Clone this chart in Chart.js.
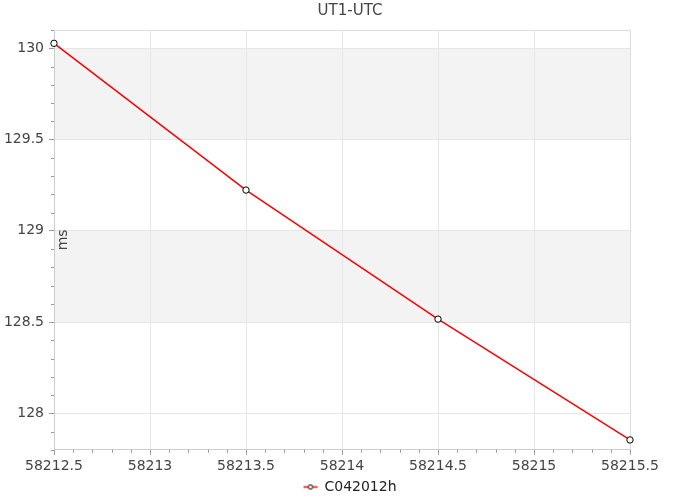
<!DOCTYPE html>
<html>
<head>
<meta charset="utf-8">
<script src="https://cdn.jsdelivr.net/npm/chart.js@4/dist/chart.umd.min.js"></script>
<style>
  html, body { margin: 0; padding: 0; background: #fff; }
  #wrap { width: 700px; height: 500px; }
</style>
</head>
<body>
<div id="wrap"><canvas id="c" width="700" height="500"></canvas></div>
<script>
// ---- data ----
const chartTitle = 'UT1-UTC';
const seriesName = 'C042012h';
const yAxisTitle = 'ms';
const mjd = [58212.5, 58213.5, 58214.5, 58215.5];
const ut1utc = [130.027, 129.223, 128.516, 127.854];
const xTicks = [58212.5, 58213, 58213.5, 58214, 58214.5, 58215, 58215.5];
const yTicks = [128, 128.5, 129, 129.5, 130];
const xMinorTicks = [58212.6, 58212.7, 58212.8, 58212.9, 58213.1, 58213.2, 58213.3, 58213.4,
  58213.6, 58213.7, 58213.8, 58213.9, 58214.1, 58214.2, 58214.3, 58214.4,
  58214.6, 58214.7, 58214.8, 58214.9, 58215.1, 58215.2, 58215.3, 58215.4];
const yMinorTicks = [127.8, 127.9, 128.1, 128.2, 128.3, 128.4, 128.6, 128.7, 128.8, 128.9,
  129.1, 129.2, 129.3, 129.4, 129.6, 129.7, 129.8, 129.9, 130.1];
const yBands = [[129.5, 130], [128.5, 129]];
const xRange = [58212.5, 58215.5];
const yRange = [127.8, 130.1];

Chart.defaults.font.family = "'DejaVu Sans', sans-serif";

// legend marker: short red line with small open circle
const marker = document.createElement('canvas');
marker.width = 16; marker.height = 9;
(function () {
  const g = marker.getContext('2d');
  g.strokeStyle = '#ff0000'; g.lineWidth = 1.5;
  g.beginPath(); g.moveTo(1, 4.5); g.lineTo(15, 4.5); g.stroke();
  g.fillStyle = '#fff'; g.strokeStyle = '#000'; g.lineWidth = 1;
  g.beginPath(); g.arc(8, 4.5, 2.2, 0, Math.PI * 2); g.fill(); g.stroke();
})();

const decor = {
  id: 'decor',
  beforeDraw(chart) {
    const { ctx, chartArea: a, scales: { y } } = chart;
    ctx.save();
    ctx.fillStyle = '#f3f3f3';
    yBands.forEach(([lo, hi]) => {
      const t = y.getPixelForValue(hi), b = y.getPixelForValue(lo);
      ctx.fillRect(a.left, t, a.right - a.left, b - t);
    });
    ctx.restore();
  },
  beforeDatasetsDraw(chart) {
    const { ctx, chartArea: a } = chart;
    ctx.save();
    ctx.strokeStyle = '#dddddd'; ctx.lineWidth = 1;
    ctx.beginPath();
    ctx.moveTo(a.left, a.top + 0.5); ctx.lineTo(a.right + 0.5, a.top + 0.5);
    ctx.lineTo(a.right + 0.5, a.bottom);
    ctx.stroke();
    // minor ticks
    const { x, y } = chart.scales;
    ctx.strokeStyle = '#999999';
    ctx.beginPath();
    yMinorTicks.forEach(v => {
      const p = Math.round(y.getPixelForValue(v)) + 0.5;
      ctx.moveTo(a.left - 3, p); ctx.lineTo(a.left, p);
    });
    xMinorTicks.forEach(v => {
      const p = Math.round(x.getPixelForValue(v)) + 0.5;
      ctx.moveTo(p, a.bottom); ctx.lineTo(p, a.bottom + 3);
    });
    ctx.stroke();
    // y axis title inside plot
    ctx.fillStyle = '#444';
    ctx.font = "14px 'DejaVu Sans', sans-serif";
    ctx.textAlign = 'center';
    ctx.textBaseline = 'middle';
    ctx.translate(a.left + 9, (a.top + a.bottom) / 2);
    ctx.rotate(-Math.PI / 2);
    ctx.fillText(yAxisTitle, 0, 0);
    ctx.restore();
  }
};

new Chart(document.getElementById('c'), {
  type: 'line',
  data: {
    labels: mjd,
    datasets: [{
      label: seriesName,
      data: mjd.map((m, i) => ({ x: m, y: ut1utc[i] })),
      borderColor: '#ff0000',
      borderWidth: 1.5,
      pointRadius: 3.2,
      pointBackgroundColor: '#ffffff',
      pointBorderColor: '#000000',
      pointBorderWidth: 1,
      tension: 0,
      fill: false,
      clip: false
    }]
  },
  options: {
    responsive: false,
    animation: false,
    layout: { padding: { left: 0, right: 0, top: 0, bottom: -4 } },
    plugins: {
      title: {
        display: true, text: chartTitle, color: '#444',
        font: { size: 15, weight: 'normal' },
        padding: { top: 2, bottom: 10 }
      },
      legend: {
        position: 'bottom',
        labels: {
          usePointStyle: true, pointStyle: marker,
          color: '#222', font: { size: 14 }, padding: 6
        }
      },
      tooltip: { enabled: false }
    },
    scales: {
      x: {
        type: 'linear', min: xRange[0], max: xRange[1],
        afterBuildTicks: s => { s.ticks = xTicks.map(v => ({ value: v })); },
        afterFit: s => { s.height = 24.2; s.paddingRight = 70; },
        ticks: { color: '#444', font: { size: 14 }, padding: 3, maxRotation: 0, autoSkip: false,
                 callback: v => String(v) },
        grid: { color: '#e6e6e6', tickColor: '#999', tickLength: 5 },
        border: { color: '#cccccc' }
      },
      y: {
        type: 'linear', min: yRange[0], max: yRange[1],
        afterBuildTicks: s => { s.ticks = yTicks.map(v => ({ value: v })); },
        afterFit: s => { s.width = 54; },
        ticks: { color: '#444', font: { size: 14 }, padding: 5, autoSkip: false,
                 callback: v => String(v) },
        grid: { color: '#e6e6e6', tickColor: '#999', tickLength: 5 },
        border: { color: '#cccccc' }
      }
    }
  },
  plugins: [decor]
});
</script>
</body>
</html>
